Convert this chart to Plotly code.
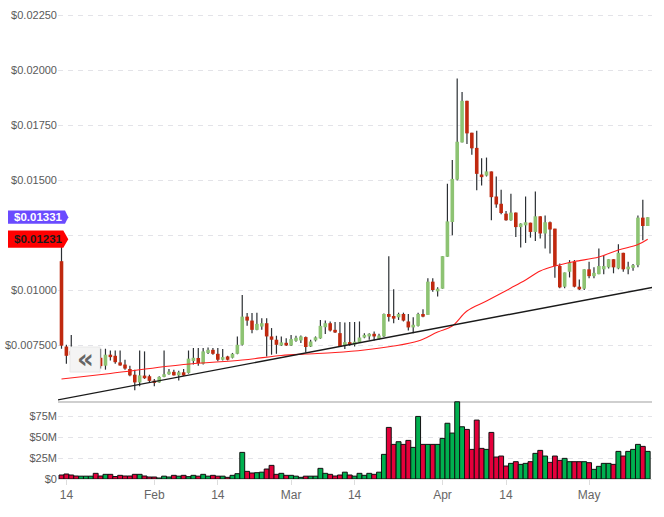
import pandas as pd
import plotly.graph_objects as go
from plotly.subplots import make_subplots

# ---------------- data ----------------
dates = [d.strftime("%Y-%m-%d") for d in pd.date_range("2018-01-13", periods=121, freq="D")]

opens = [0.01131, 0.00743, 0.00722, 0.00704, 0.00692, 0.00708, 0.00716, 0.00722, 0.00692, 0.00656,
         0.00706, 0.00701, 0.00671, 0.00661, 0.00641, 0.00615, 0.00580, 0.00611, 0.00608, 0.00588,
         0.00580, 0.00605, 0.00617, 0.00628, 0.00612, 0.00626, 0.00623, 0.00677, 0.00691, 0.00665,
         0.00714, 0.00728, 0.00710, 0.00683, 0.00698, 0.00692, 0.00710, 0.00751, 0.00879, 0.00861,
         0.00819, 0.00834, 0.00849, 0.00789, 0.00774, 0.00748, 0.00760, 0.00748, 0.00769, 0.00771,
         0.00786, 0.00743, 0.00771, 0.00780, 0.00831, 0.00849, 0.00819, 0.00804, 0.00747, 0.00763,
         0.00752, 0.00762, 0.00784, 0.00789, 0.00801, 0.00778, 0.00789, 0.00891, 0.00882, 0.00876,
         0.00891, 0.00857, 0.00830, 0.00837, 0.00891, 0.00887, 0.01038, 0.00994, 0.01006, 0.01151,
         0.01309, 0.01502, 0.01671, 0.01860, 0.01715, 0.01646, 0.01525, 0.01520, 0.01539, 0.01425,
         0.01392, 0.01347, 0.01317, 0.01352, 0.01286, 0.01294, 0.01306, 0.01264, 0.01335, 0.01257,
         0.01308, 0.01279, 0.01109, 0.01015, 0.01083, 0.01128, 0.01015, 0.01006, 0.01094, 0.01063,
         0.01072, 0.01094, 0.01103, 0.01140, 0.01098, 0.01169, 0.01094, 0.01101, 0.01113, 0.01329,
         0.01291]
highs = [0.01195, 0.00751, 0.00796, 0.00728, 0.00722, 0.00726, 0.00730, 0.00728, 0.00733, 0.00733,
         0.00725, 0.00725, 0.00725, 0.00683, 0.00656, 0.00638, 0.00725, 0.00721, 0.00615, 0.00596,
         0.00608, 0.00725, 0.00641, 0.00638, 0.00633, 0.00641, 0.00725, 0.00736, 0.00736, 0.00736,
         0.00739, 0.00736, 0.00736, 0.00732, 0.00701, 0.00714, 0.00789, 0.00977, 0.00895, 0.00895,
         0.00897, 0.00872, 0.00872, 0.00827, 0.00792, 0.00789, 0.00781, 0.00796, 0.00792, 0.00793,
         0.00789, 0.00774, 0.00789, 0.00864, 0.00861, 0.00857, 0.00855, 0.00855, 0.00852, 0.00855,
         0.00855, 0.00857, 0.00804, 0.00804, 0.00811, 0.00801, 0.00893, 0.01154, 0.01003, 0.00897,
         0.00897, 0.00891, 0.00876, 0.00897, 0.00913, 0.01053, 0.01053, 0.01012, 0.01154, 0.01483,
         0.01591, 0.01961, 0.01900, 0.01860, 0.01715, 0.01724, 0.01599, 0.01602, 0.01539, 0.01516,
         0.01456, 0.01359, 0.01438, 0.01352, 0.01303, 0.01425, 0.01306, 0.01448, 0.01335, 0.01339,
         0.01311, 0.01279, 0.01121, 0.01080, 0.01136, 0.01136, 0.01048, 0.01094, 0.01128, 0.01103,
         0.01189, 0.01158, 0.01140, 0.01140, 0.01208, 0.01169, 0.01128, 0.01118, 0.01339, 0.01410,
         0.01331]
lows = [0.00733, 0.00665, 0.00690, 0.00680, 0.00682, 0.00690, 0.00695, 0.00686, 0.00643, 0.00638,
        0.00680, 0.00665, 0.00656, 0.00638, 0.00608, 0.00544, 0.00562, 0.00596, 0.00580, 0.00562,
        0.00578, 0.00603, 0.00615, 0.00611, 0.00589, 0.00609, 0.00620, 0.00661, 0.00656, 0.00661,
        0.00709, 0.00706, 0.00676, 0.00680, 0.00680, 0.00689, 0.00708, 0.00748, 0.00838, 0.00804,
        0.00817, 0.00819, 0.00698, 0.00706, 0.00710, 0.00745, 0.00745, 0.00746, 0.00765, 0.00759,
        0.00716, 0.00741, 0.00766, 0.00778, 0.00800, 0.00811, 0.00805, 0.00741, 0.00732, 0.00747,
        0.00743, 0.00759, 0.00781, 0.00774, 0.00771, 0.00774, 0.00786, 0.00857, 0.00849, 0.00864,
        0.00857, 0.00816, 0.00804, 0.00834, 0.00876, 0.00887, 0.00992, 0.00970, 0.01006, 0.01151,
        0.01249, 0.01498, 0.01671, 0.01664, 0.01615, 0.01453, 0.01475, 0.01516, 0.01317, 0.01374,
        0.01344, 0.01315, 0.01315, 0.01241, 0.01193, 0.01214, 0.01238, 0.01223, 0.01234, 0.01189,
        0.01166, 0.01056, 0.01008, 0.01008, 0.01057, 0.01012, 0.01000, 0.01000, 0.01053, 0.01053,
        0.01072, 0.01072, 0.01098, 0.01076, 0.01094, 0.01083, 0.01072, 0.01087, 0.01103, 0.01226,
        0.01291]
closes = [0.00747, 0.00701, 0.00704, 0.00692, 0.00708, 0.00716, 0.00722, 0.00692, 0.00654, 0.00706,
          0.00695, 0.00672, 0.00657, 0.00643, 0.00612, 0.00580, 0.00612, 0.00599, 0.00587, 0.00578,
          0.00605, 0.00617, 0.00629, 0.00612, 0.00626, 0.00611, 0.00688, 0.00692, 0.00668, 0.00721,
          0.00728, 0.00710, 0.00683, 0.00695, 0.00683, 0.00710, 0.00751, 0.00879, 0.00861, 0.00819,
          0.00846, 0.00849, 0.00789, 0.00774, 0.00751, 0.00762, 0.00748, 0.00777, 0.00783, 0.00789,
          0.00741, 0.00766, 0.00785, 0.00837, 0.00849, 0.00816, 0.00807, 0.00743, 0.00763, 0.00750,
          0.00765, 0.00784, 0.00796, 0.00801, 0.00789, 0.00793, 0.00891, 0.00878, 0.00870, 0.00891,
          0.00861, 0.00830, 0.00842, 0.00891, 0.00879, 0.01038, 0.01000, 0.01006, 0.01154, 0.01312,
          0.01505, 0.01674, 0.01860, 0.01712, 0.01644, 0.01528, 0.01513, 0.01539, 0.01422, 0.01389,
          0.01350, 0.01317, 0.01352, 0.01286, 0.01302, 0.01308, 0.01264, 0.01335, 0.01257, 0.01308,
          0.01275, 0.01109, 0.01012, 0.01080, 0.01125, 0.01015, 0.01003, 0.01094, 0.01063, 0.01078,
          0.01109, 0.01109, 0.01140, 0.01103, 0.01169, 0.01094, 0.01106, 0.01113, 0.01329, 0.01291,
          0.01331]
volumes_m = [4.8, 6.0, 4.8, 3.6, 3.4, 3.4, 3.4, 6.8, 3.6, 5.6, 5.6, 3.0, 4.4, 3.6, 3.6, 5.6, 5.6, 3.6,
             2.4, 2.4, 1.2, 3.4, 2.4, 4.4, 3.4, 4.4, 2.8, 4.4, 3.4,
             5.6, 3.4, 4.4, 3.4, 3.4, 2.0, 4.4, 6.4, 32.0, 9.2, 7.2, 7.6, 8.2, 12.0, 16.4, 5.6, 6.8,
             4.4, 4.4, 3.4, 2.0, 3.4, 3.4, 3.4, 12.8, 6.8, 5.6, 3.6, 4.8, 8.2, 4.8, 3.4, 6.8, 4.4,
             6.8, 5.6, 8.2,
             29.6, 62.0, 41.6, 44.8, 41.6, 46.4, 38.0, 75.2, 41.6,
             41.6, 41.6, 41.6, 48.8, 67.0, 55.2, 92.8, 62.8, 59.6, 35.6, 70.8, 36.8, 35.6, 56.0,
             26.4, 27.6, 15.6, 18.8, 20.8, 17.6, 18.8, 20.8, 30.8, 34.4, 27.6, 20.0, 27.6, 22.4,
             24.8, 20.8, 20.8, 20.8, 20.8, 19.6, 11.6, 15.2, 18.8, 18.8, 17.6, 33.2, 27.6, 33.2,
             35.6, 41.6, 39.2, 33.2]

ma_dates = ["2018-01-13", "2018-01-23", "2018-02-07", "2018-02-19", "2018-02-27", "2018-03-04",
            "2018-03-10", "2018-03-16", "2018-03-22", "2018-03-27", "2018-03-31", "2018-04-03",
            "2018-04-06", "2018-04-10", "2018-04-15", "2018-04-18", "2018-04-21", "2018-04-24",
            "2018-04-28", "2018-05-03", "2018-05-07", "2018-05-11", "2018-05-13"]
ma_values = [0.005955, 0.006205, 0.006614, 0.006818, 0.007023, 0.007091, 0.007159, 0.007273,
             0.007455, 0.007682, 0.008091, 0.008364, 0.009045, 0.009500, 0.010091, 0.010455,
             0.010864, 0.011091, 0.011295, 0.011500, 0.011818, 0.012068, 0.012310]

trend_dates = ["2018-01-12", "2018-05-14"]
trend_values = [0.004995, 0.010122]

price_ticks = [0.0075, 0.01, 0.0125, 0.015, 0.0175, 0.02, 0.0225]
# the $0.01250 label sits under the moving-average tag in the reference, so it is not visible
price_tick_text = ["$0.007500", "$0.01000", "", "$0.01500", "$0.01750", "$0.02000", "$0.02250"]
vol_ticks = [0, 25e6, 50e6, 75e6]
vol_tick_text = ["$0", "$25M", "$50M", "$75M"]
x_tick_dates = ["2018-01-14", "2018-02-01", "2018-02-14", "2018-03-01",
                "2018-03-14", "2018-04-01", "2018-04-14", "2018-05-01"]
x_tick_text = ["14", "Feb", "14", "Mar", "14", "Apr", "14", "May"]

last_price = 0.01331
ma_last = 0.01231
last_label = "$0.01331"
ma_label = "$0.01231"

# ---------------- styling ----------------
W, H = 664, 517
ML, MR, MT, MB = 58, 12, 0, 38
FONT = "Liberation Sans, Arial, sans-serif"
C_UP, C_DN = "#8dc373", "#c0290f"
V_UP, V_DN = "#00b04f", "#e5003b"
GRID = "#e3e3e8"

def px_to_paper(px):
    return (px - ML) / (W - ML - MR)

fig = make_subplots(rows=2, cols=1, shared_xaxes=True, vertical_spacing=0,
                    row_heights=[401 / 479, 78 / 479])

# wicks
wx, wy = [], []
for d, lo, hi in zip(dates, lows, highs):
    wx += [d, d, None]
    wy += [lo, hi, None]
fig.add_trace(go.Scatter(x=wx, y=wy, mode="lines", line=dict(color="#2b2f33", width=1.2),
                         hoverinfo="skip", showlegend=False), row=1, col=1)

# bodies
for up, color in [(True, C_UP), (False, C_DN)]:
    bx, by = [], []
    for d, o, c in zip(dates, opens, closes):
        if (c >= o) == up:
            bx += [d, d, None]
            by += [o, c, None]
    fig.add_trace(go.Scatter(x=bx, y=by, mode="lines", line=dict(color=color, width=3.6),
                             hoverinfo="skip", showlegend=False), row=1, col=1)

# moving average & trend line
fig.add_trace(go.Scatter(x=ma_dates, y=ma_values, mode="lines", line=dict(color="#ff2020", width=1.1),
                         line_shape="spline", showlegend=False), row=1, col=1)
fig.add_trace(go.Scatter(x=trend_dates, y=trend_values, mode="lines",
                         line=dict(color="#1a1a1a", width=1.4), showlegend=False), row=1, col=1)

# volume
vcolors = [V_UP if c >= o else V_DN for o, c in zip(opens, closes)]
fig.add_trace(go.Bar(x=dates, y=[v * 1e6 for v in volumes_m], width=86400000,
                     marker=dict(color=vcolors, line=dict(color="#111111", width=1)),
                     showlegend=False), row=2, col=1)

x0 = pd.Timestamp("2018-01-13") - pd.Timedelta(days=0.716)
x1 = pd.Timestamp("2018-01-13") + pd.Timedelta(days=120.88)
xr = [x0.strftime("%Y-%m-%d %H:%M:%S"), x1.strftime("%Y-%m-%d %H:%M:%S")]

fig.update_layout(
    width=W, height=H, margin=dict(l=ML, r=MR, t=MT, b=MB),
    paper_bgcolor="white", plot_bgcolor="white", showlegend=False, barmode="overlay",
    font=dict(family=FONT, color="#666666"),
    xaxis=dict(range=xr, showticklabels=False, showgrid=False, zeroline=False, ticks="",
               showline=True, linecolor="#cfcfcf", linewidth=1.5),
    xaxis2=dict(range=xr, tickvals=x_tick_dates, ticktext=x_tick_text, showgrid=False,
                ticks="outside", ticklen=5, tickcolor="#dddddd", showline=True,
                linecolor="#e2e2e2", linewidth=1, tickfont=dict(size=12, color="#666666")),
    yaxis=dict(range=[0.004955, 0.023182], tickvals=price_ticks, ticktext=price_tick_text,
               showgrid=True, gridcolor=GRID, griddash="5px,5px", zeroline=False, ticks="",
               tickfont=dict(size=11, color="#5a5a5a")),
    yaxis2=dict(range=[0, 93.75e6], tickvals=vol_ticks, ticktext=vol_tick_text,
                showgrid=True, gridcolor=GRID, griddash="5px,5px", zeroline=False, ticks="",
                tickfont=dict(size=11, color="#5a5a5a")),
)

# last price label (purple) and moving-average label (red)
def tag(value, half, right, tip, fill):
    return dict(type="path", xref="paper", yref="y", layer="above", fillcolor=fill,
                line=dict(width=0),
                path=(f"M {px_to_paper(8)},{value - half} L {px_to_paper(right)},{value - half} "
                      f"L {px_to_paper(tip)},{value} L {px_to_paper(right)},{value + half} "
                      f"L {px_to_paper(8)},{value + half} Z"))

fig.add_shape(tag(ma_last, 0.000391, 63.3, 68.3, "#ff0000"))
fig.add_shape(tag(last_price, 0.000300, 65, 68.3, "#6a4bff"))
fig.add_annotation(xref="paper", yref="y", x=px_to_paper(38.5), y=ma_last, text=f"<b>{ma_label}</b>",
                   xanchor="center", yanchor="middle", showarrow=False,
                   font=dict(family=FONT, size=11.5, color="#1a1a1a"))
fig.add_annotation(xref="paper", yref="y", x=px_to_paper(38.8), y=last_price, text=f"<b>{last_label}</b>",
                   xanchor="center", yanchor="middle", showarrow=False,
                   font=dict(family=FONT, size=11.5, color="white"))

# scroll-back button
fig.add_shape(type="rect", xref="paper", yref="y", layer="above",
              x0=px_to_paper(70), x1=px_to_paper(100), y0=0.006273, y1=0.007409,
              fillcolor="#f4f4f4", line=dict(color="#e8e8e8", width=1))
fig.add_annotation(xref="paper", yref="y", x=px_to_paper(85), y=0.00686, text="<b>«</b>",
                   xanchor="center", yanchor="middle", showarrow=False,
                   font=dict(family="DejaVu Sans", size=26, color="#666666"))

fig.write_html("out.html")
